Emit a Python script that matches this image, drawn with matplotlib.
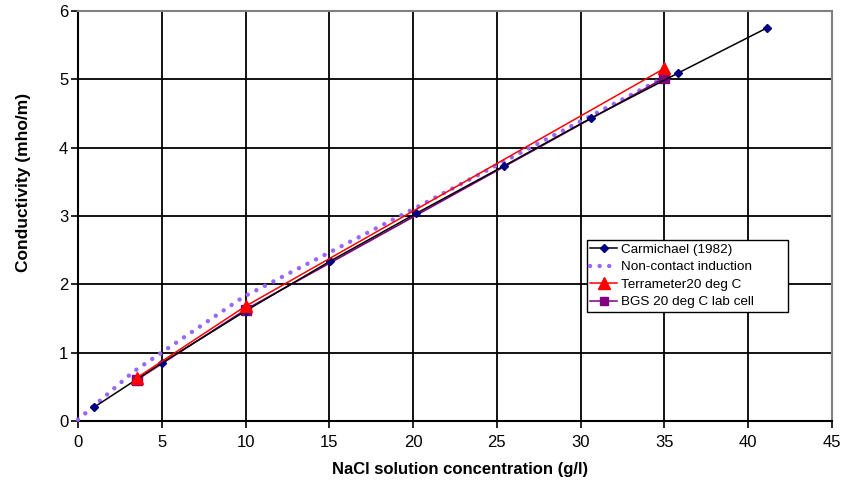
import matplotlib
matplotlib.use("Agg")
import matplotlib.pyplot as plt
from matplotlib.lines import Line2D

plt.rcParams['font.family'] = ['Liberation Sans', 'DejaVu Sans']

# Carmichael (1982) reference curve
carm_x = [0.95, 5.0, 10.0, 15.05, 20.2, 25.4, 30.6, 35.8, 41.1]
carm_y = [0.20, 0.85, 1.61, 2.34, 3.04, 3.73, 4.43, 5.09, 5.75]

# Non-contact induction measurements
nci_x = [0.0, 3.3, 9.9, 20.0, 35.0]
nci_y = [0.02, 0.72, 1.82, 3.10, 5.03]

# Terrameter at 20 deg C
terr_x = [3.5, 10.0, 35.0]
terr_y = [0.63, 1.68, 5.16]

# BGS lab cell at 20 deg C
bgs_x = [3.5, 10.0, 35.0]
bgs_y = [0.60, 1.63, 5.02]

x_ticks = [0, 5, 10, 15, 20, 25, 30, 35, 40, 45]
y_ticks = [0, 1, 2, 3, 4, 5, 6]

fig = plt.figure(figsize=(8.48, 4.82), dpi=100)
ax = fig.add_axes([78 / 848, 1 - 421 / 482, (832 - 78) / 848, (421 - 11) / 482])

ax.set_xlim(0, 45)
ax.set_ylim(0, 6)
ax.set_xticks(x_ticks)
ax.set_yticks(y_ticks)
ax.grid(True, color='black', linewidth=1.3)
ax.set_axisbelow(True)

nci_color = '#9966FF'
dot_style = (0, (0.01, 2.15))
ax.plot(nci_x, nci_y, linestyle=dot_style, dash_capstyle='round',
        color=nci_color, linewidth=3.2, clip_on=False, zorder=3)
ax.plot(bgs_x, bgs_y, color='#800080', linewidth=1.2, marker='s',
        markersize=7, markeredgecolor='#800080', zorder=4)
ax.plot(carm_x, carm_y, color='black', linewidth=1.1, marker='D',
        markersize=4.5, markerfacecolor='#000080', markeredgecolor='#000080',
        zorder=5)
ax.plot(terr_x, terr_y, color='#FF0000', linewidth=1.1, marker='^',
        markersize=9, markeredgecolor='#FF0000', zorder=6)

for side in ['top', 'right']:
    ax.spines[side].set_color('#808080')
    ax.spines[side].set_linewidth(1.5)
for side in ['left', 'bottom']:
    ax.spines[side].set_color('black')
    ax.spines[side].set_linewidth(1.5)

ax.tick_params(axis='both', direction='out', length=5, width=1.2,
               labelsize=12, colors='black')
ax.tick_params(axis='x', pad=5)
ax.tick_params(axis='y', pad=2)

ax.set_xlabel('NaCl solution concentration (g/l)', fontsize=12,
              fontweight='bold', labelpad=6)
ax.xaxis.set_label_coords((460 - 78) / 754, -(462 - 421) / 410)
ax.set_ylabel('Conductivity (mho/m)', fontsize=12.5, fontweight='bold')
ax.yaxis.set_label_coords(-(78 - 31) / 754, (421 - 182) / 410)

handles = [
    Line2D([], [], color='black', linewidth=1.1, marker='D', markersize=4.5,
           markerfacecolor='#000080', markeredgecolor='#000080'),
    Line2D([], [], color=nci_color, linewidth=3.2,
           linestyle=dot_style, dash_capstyle='round'),
    Line2D([], [], color='#FF0000', linewidth=1.1, marker='^', markersize=8),
    Line2D([], [], color='#800080', linewidth=1.1, marker='s', markersize=6),
]
labels = ['Carmichael (1982)', 'Non-contact induction',
          'Terrameter20 deg C', 'BGS 20 deg C lab cell']
leg_x0 = (587 - 78) / 754
leg_x1 = (788 - 78) / 754
leg_y0 = (421 - 315) / 410
leg_y1 = (421 - 240) / 410
leg = ax.legend(handles, labels, loc='upper left', mode='expand',
                bbox_to_anchor=(leg_x0, leg_y0, leg_x1 - leg_x0, leg_y1 - leg_y0),
                fontsize=9.7, frameon=True, fancybox=False, edgecolor='black',
                framealpha=1, borderpad=0.25, handlelength=2.0,
                handletextpad=0.25, labelspacing=0.38, borderaxespad=0)
leg.get_frame().set_linewidth(1.0)
leg.set_zorder(10)

fig.savefig('out.png', dpi=100)
